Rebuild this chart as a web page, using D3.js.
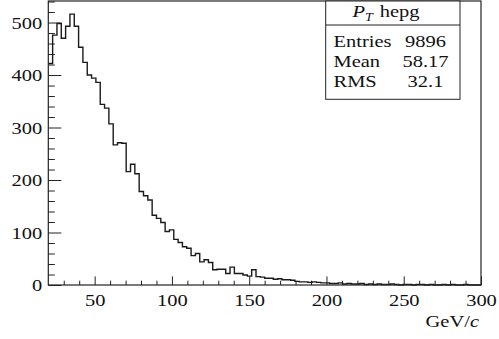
<!DOCTYPE html>
<html>
<head>
<meta charset="utf-8">
<script src="https://cdn.jsdelivr.net/npm/d3@7"></script>
<style>
  body { margin: 0; background: #fff; }
  svg text { font-family: "Liberation Serif", "DejaVu Serif", serif; fill: #111; }
</style>
</head>
<body>
<div class="graph"></div>
<script>
/*---------- DATA ----------*/

//histogram binning (GeV/c)
const binLow = 20;
const binHigh = 300;

//bin contents, 100 bins
const counts = [
  422, 476, 498, 470, 493, 516, 493, 453, 424, 400,
  394, 386, 344, 337, 307, 267, 271, 270, 216, 230,
  212, 178, 170, 162, 133, 127, 119, 102, 105, 87,
  81, 73, 70, 56, 60, 44, 48, 43, 29, 30,
  30, 22, 34, 22, 22, 19, 17, 29, 16, 15,
  13, 13, 11, 12, 10, 10, 9, 7, 6, 6,
  5, 6, 5, 4, 4, 3, 3, 4, 2, 3,
  2, 2, 3, 1, 2, 1, 2, 1, 1, 2,
  1, 0, 1, 1, 0, 1, 1, 0, 1, 0,
  0, 1, 0, 1, 0, 0, 1, 0, 0, 0
];

//axis ticks
const xMajor = [50, 100, 150, 200, 250, 300];
const yMajor = [0, 100, 200, 300, 400, 500];
const yMax = 541;

//stats box
const statTitle = "hepg";
const statLabels = ["Entries", "Mean", "RMS"];
const statValues = ["9896", "58.17", "32.1"];
const xTitle = "GeV/";

/*---------- D3 STUFF ----------*/

const SIZE = {X: 499, Y: 339};
const FRAME = {LEFT: 48.3, RIGHT: 481, TOP: 1, BOTTOM: 285};
const SX = 1.17; //horizontal stretch of the glyphs
const FONT = 17.5;
const FAMILY = '"Liberation Serif", "DejaVu Serif", serif';

const svg = d3.select(".graph").append("svg")
    .attr("width", SIZE.X)
    .attr("height", SIZE.Y)
    .attr("font-family", FAMILY);

var x = d3.scaleLinear()
    .domain([binLow, binHigh])
    .range([FRAME.LEFT, FRAME.RIGHT]);

var y = d3.scaleLinear()
    .domain([0, yMax])
    .range([FRAME.BOTTOM, FRAME.TOP]);

//stretch text horizontally around its own anchor
function stretch(sel) {
    sel.each(function () {
        const t = d3.select(this);
        const x0 = +t.attr("x") || 0;
        t.attr("x", x0 / SX).attr("transform", `scale(${SX},1)`);
    });
}

//minor ticks
const xMinor = d3.range(30, 300, 10).filter(v => v % 50 !== 0);
const yMinor = d3.range(20, yMax, 20).filter(v => v % 100 !== 0);

svg.append("g")
    .attr("transform", `translate(0, ${FRAME.BOTTOM})`)
    .call(d3.axisBottom(x).tickValues(xMinor).tickSizeInner(-4.3).tickSizeOuter(0).tickFormat(""))
    .call(g => g.select(".domain").remove());

svg.append("g")
    .attr("transform", `translate(${FRAME.LEFT}, 0)`)
    .call(d3.axisLeft(y).tickValues(yMinor).tickSizeInner(-6.5).tickSizeOuter(0).tickFormat(""))
    .call(g => g.select(".domain").remove());

//major ticks + labels
const xAxis = svg.append("g")
    .attr("transform", `translate(0, ${FRAME.BOTTOM})`)
    .call(d3.axisBottom(x).tickValues(xMajor).tickSizeInner(-8.6).tickSizeOuter(0).tickPadding(9))
    .call(g => g.select(".domain").remove());

const yAxis = svg.append("g")
    .attr("transform", `translate(${FRAME.LEFT}, 0)`)
    .call(d3.axisLeft(y).tickValues(yMajor).tickSizeInner(-13).tickSizeOuter(0).tickPadding(6))
    .call(g => g.select(".domain").remove());

svg.selectAll("g").attr("font-family", FAMILY).attr("font-size", FONT);
svg.selectAll(".tick line").attr("stroke", "#222");
svg.selectAll(".tick text")
    .attr("fill", "#111")
    .call(stretch);

//histogram
const bins = counts.map((c, i) => ({
    lo: binLow + i * (binHigh - binLow) / counts.length,
    n: c
}));
const stepPts = bins.concat([{lo: binHigh, n: counts[counts.length - 1]}]);

const line = d3.line()
    .x(d => x(d.lo))
    .y(d => y(d.n))
    .curve(d3.curveStepAfter);

svg.append("path")
    .attr("fill", "none")
    .attr("stroke", "#1a1a1a")
    .attr("stroke-width", 1.4)
    .attr("d", line(stepPts));

//frame
svg.append("rect")
    .attr("x", FRAME.LEFT)
    .attr("y", FRAME.TOP)
    .attr("width", FRAME.RIGHT - FRAME.LEFT)
    .attr("height", FRAME.BOTTOM - FRAME.TOP)
    .attr("fill", "none")
    .attr("stroke", "#222")
    .attr("stroke-width", 1.2);

//x axis title
const xt = svg.append("text")
    .attr("x", 479)
    .attr("y", 327.5)
    .attr("text-anchor", "end")
    .attr("font-size", FONT);
xt.append("tspan").text(xTitle);
xt.append("tspan").attr("font-style", "italic").text("c");
stretch(xt);

//stats box
const BOX = {L: 325.7, R: 460, T: 1, B: 99.3, SEP: 25};
const box = svg.append("g");

box.append("rect")
    .attr("x", BOX.L)
    .attr("y", BOX.T)
    .attr("width", BOX.R - BOX.L)
    .attr("height", BOX.B - BOX.T)
    .attr("fill", "#fff")
    .attr("stroke", "#222")
    .attr("stroke-width", 1);

box.append("line")
    .attr("x1", BOX.L).attr("x2", BOX.R)
    .attr("y1", BOX.SEP).attr("y2", BOX.SEP)
    .attr("stroke", "#222");

const tt = box.append("text")
    .attr("x", 386)
    .attr("y", 17)
    .attr("text-anchor", "middle")
    .attr("font-size", FONT);
tt.append("tspan").attr("font-style", "italic").text("P");
tt.append("tspan").attr("font-style", "italic").attr("font-size", 12).attr("dy", 4).text("T");
tt.append("tspan").attr("dy", -4).attr("dx", 6).text(statTitle);
stretch(tt);

statLabels.forEach((lab, i) => {
    const yy = 46.7 + i * 20.3;
    box.append("text")
        .attr("x", 333.5)
        .attr("y", yy)
        .attr("font-size", FONT)
        .text(lab)
        .call(stretch);
    box.append("text")
        .attr("x", 425.5)
        .attr("y", yy)
        .attr("text-anchor", "middle")
        .attr("font-size", FONT)
        .text(statValues[i])
        .call(stretch);
});
</script>
</body>
</html>
